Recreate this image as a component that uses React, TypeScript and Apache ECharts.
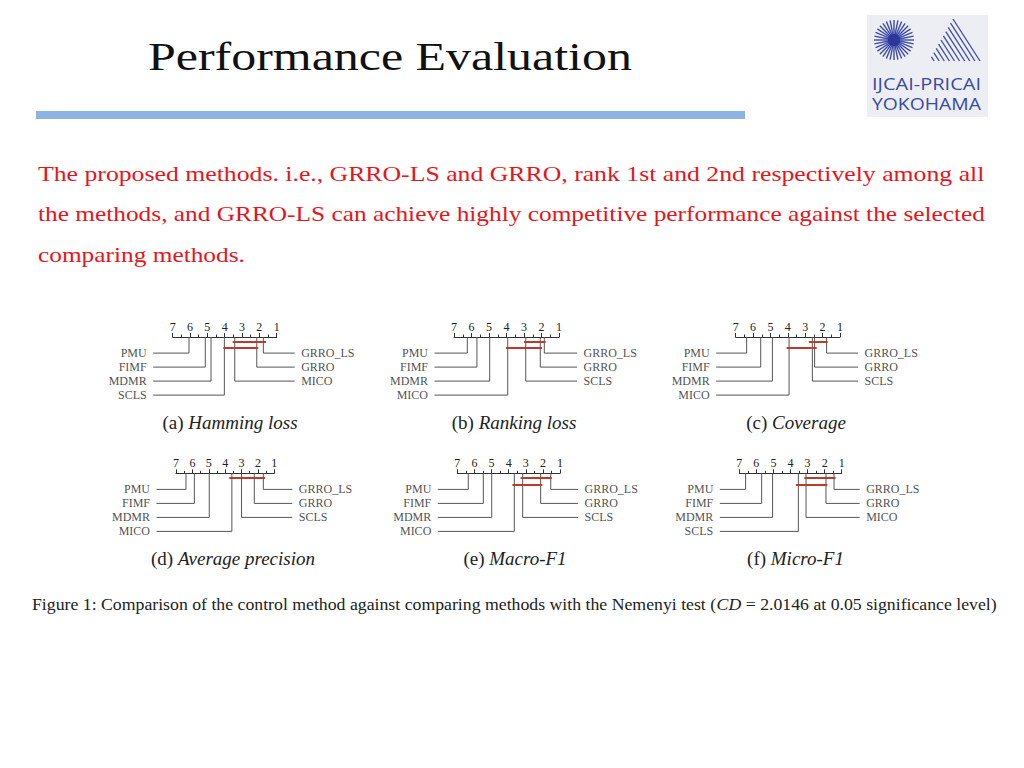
import React, { useEffect, useRef } from "react";
import * as echarts from "echarts";

// ---------- data ----------
const methodNames = ["PMU", "FIMF", "MDMR", "SCLS", "MICO", "GRRO", "GRRO_LS"];

// average ranks, aligned with methodNames
const hammingLossRanks = [6.06, 5.12, 4.79, 4.02, 3.42, 2.15, 1.77];
const rankingLossRanks = [6.24, 5.69, 4.96, 2.9, 3.93, 2.07, 1.84];
const coverageRanks = [6.37, 5.56, 4.89, 2.59, 3.93, 2.46, 1.77];
const avgPrecisionRanks = [6.39, 5.88, 4.97, 3.0, 3.59, 2.22, 1.67];
const macroF1Ranks = [6.36, 5.48, 4.99, 3.18, 3.67, 2.13, 1.54];
const microF1Ranks = [6.63, 5.69, 5.05, 3.54, 3.09, 1.92, 1.45];

// critical-difference cliques [from rank, to rank]
const hammingLossCD = [[3.54, 1.62], [4.08, 2.06]];
const rankingLossCD = [[3.0, 1.76], [4.03, 1.97]];
const coverageCD = [[2.79, 1.71], [4.07, 2.34]];
const avgPrecisionCD = [[3.75, 1.57]];
const macroF1CD = [[3.3, 1.48], [3.78, 2.03]];
const microF1CD = [[3.19, 1.36], [3.68, 1.84]];

const panelTags = ["(a) ", "(b) ", "(c) ", "(d) ", "(e) ", "(f) "];
const panelMetrics = ["Hamming loss", "Ranking loss", "Coverage", "Average precision", "Macro-F1", "Micro-F1"];
const panelRanks = [hammingLossRanks, rankingLossRanks, coverageRanks, avgPrecisionRanks, macroF1Ranks, microF1Ranks];
const panelCD = [hammingLossCD, rankingLossCD, coverageCD, avgPrecisionCD, macroF1CD, microF1CD];

const titleText = "Performance Evaluation";
const paragraphLines = [
  "The proposed methods. i.e., GRRO-LS and GRRO, rank 1st and 2nd respectively among all",
  "the methods, and GRRO-LS can achieve highly competitive performance against the selected",
  "comparing methods.",
];
const captionParts = [
  "Figure 1: Comparison of the control method against comparing methods with the Nemenyi test (",
  "CD",
  " = 2.0146 at 0.05 significance level)",
];
const logoLines = ["IJCAI-PRICAI", "YOKOHAMA"];

// ---------- layout ----------
const panelLayout = [
  { left: 172.7, width: 104, top: 337, capX: 230, capY: 422 },
  { left: 454, width: 105, top: 337, capX: 514, capY: 422 },
  { left: 735.7, width: 104.3, top: 337, capX: 796, capY: 422 },
  { left: 176, width: 98.3, top: 473.3, capX: 233, capY: 558 },
  { left: 457.3, width: 102.7, top: 473.3, capX: 515, capY: 558 },
  { left: 739.3, width: 102.4, top: 473.3, capX: 795.5, capY: 558 },
];
const Y_MIN = -1.15;
const Y_MAX = 3;
const ROW_PX = 14;
const SERIF = "Liberation Serif";
const SANS = "Open Sans";

export default function App() {
  const ref = useRef<HTMLDivElement>(null);

  useEffect(() => {
    if (!ref.current) return;
    const chart = echarts.init(ref.current, null, { renderer: "svg" });
    const ctx = document.createElement("canvas").getContext("2d")!;
    const measure = (t: string, size: number, fam: string, style = "normal", weight = "normal") => {
      ctx.font = `${style} ${weight} ${size}px "${fam}"`;
      return ctx.measureText(t).width;
    };

    const grids: any[] = [];
    const xAxes: any[] = [];
    const yAxes: any[] = [];
    const series: any[] = [];
    const graphics: any[] = [];

    panelRanks.forEach((ranks, i) => {
      const L = panelLayout[i];
      const ppr = L.width / 6;
      const leftEdge = 7 + 19.5 / ppr;
      const rightEdge = 1 - 18 / ppr;
      grids.push({ left: L.left, top: L.top, width: L.width, height: (Y_MAX - Y_MIN) * ROW_PX });
      xAxes.push({
        gridIndex: i,
        type: "value",
        min: 1,
        max: 7,
        interval: 1,
        inverse: true,
        position: "top",
        axisLine: { show: true, onZero: false, lineStyle: { color: "#333", width: 1 } },
        axisTick: { show: true, inside: false, length: 4, lineStyle: { color: "#333", width: 1 } },
        minorTick: { show: true, splitNumber: 2, length: 2.5, lineStyle: { color: "#333", width: 1 } },
        axisLabel: { show: true, fontFamily: SERIF, fontSize: 12, color: "#222", margin: 4 },
        splitLine: { show: false },
        minorSplitLine: { show: false },
      });
      yAxes.push({ gridIndex: i, type: "value", min: Y_MIN, max: Y_MAX, inverse: true, show: false });

      const items = methodNames.map((m, k) => ({ m, r: ranks[k] }));
      const leftSide = [...items].sort((a, b) => b.r - a.r).slice(0, 4);
      const rightSide = [...items].sort((a, b) => a.r - b.r).slice(0, 3);

      const connectors: any[] = [];
      const labels: any[] = [];
      leftSide.forEach((it, row) => {
        connectors.push({ coords: [[it.r, Y_MIN], [it.r, row], [leftEdge, row]] });
        labels.push({ value: [leftEdge, row], name: it.m, label: { position: "left" } });
      });
      rightSide.forEach((it, row) => {
        connectors.push({ coords: [[it.r, Y_MIN], [it.r, row], [rightEdge, row]] });
        labels.push({ value: [rightEdge, row], name: it.m, label: { position: "right" } });
      });

      series.push({
        type: "lines",
        coordinateSystem: "cartesian2d",
        xAxisIndex: i,
        yAxisIndex: i,
        polyline: true,
        clip: false,
        silent: true,
        lineStyle: { color: "#555", width: 1, opacity: 1 },
        data: connectors,
      });
      const levels = [Y_MIN + 4.5 / ROW_PX, Y_MIN + 11 / ROW_PX];
      series.push({
        type: "lines",
        coordinateSystem: "cartesian2d",
        xAxisIndex: i,
        yAxisIndex: i,
        polyline: false,
        clip: false,
        silent: true,
        lineStyle: { color: "#c0392b", width: 2, opacity: 1 },
        data: panelCD[i].map((b, k) => ({ coords: [[b[0], levels[k]], [b[1], levels[k]]] })),
      });
      series.push({
        type: "scatter",
        xAxisIndex: i,
        yAxisIndex: i,
        clip: false,
        silent: true,
        symbolSize: 1,
        itemStyle: { color: "rgba(0,0,0,0)" },
        label: {
          show: true,
          formatter: "{b}",
          distance: 6,
          fontFamily: SERIF,
          fontSize: 12,
          color: "#222",
        },
        data: labels,
      });

      graphics.push({
        type: "text",
        x: L.capX,
        y: L.capY,
        style: {
          text: `{n|${panelTags[i]}}{i|${panelMetrics[i]}}`,
          textAlign: "center",
          align: "center",
          textVerticalAlign: "middle",
          verticalAlign: "middle",
          rich: {
            n: { fontFamily: SERIF, fontSize: 19, fill: "#222", color: "#222" },
            i: { fontFamily: SERIF, fontSize: 19, fontStyle: "italic", fill: "#222", color: "#222" },
          },
        },
      });
    });

    // title
    const titleSize = 39;
    const titleW = measure(titleText, titleSize, SERIF);
    graphics.push({
      type: "text",
      x: 148,
      y: 57,
      scaleX: 484 / titleW,
      style: {
        text: titleText,
        fontFamily: SERIF,
        fontSize: titleSize,
        fill: "#111",
        textAlign: "left",
        align: "left",
        textVerticalAlign: "middle",
        verticalAlign: "middle",
      },
    });
    graphics.push({
      type: "rect",
      shape: { x: 36, y: 111, width: 709, height: 8 },
      style: { fill: "#8db3e2" },
    });

    // paragraph
    const parSize = 21;
    const parY = [174, 214, 255];
    const parW = [947, 947, 207];
    paragraphLines.forEach((t, k) => {
      const w = measure(t, parSize, SERIF);
      graphics.push({
        type: "text",
        x: 38,
        y: parY[k],
        scaleX: parW[k] / w,
        style: {
          text: t,
          fontFamily: SERIF,
          fontSize: parSize,
          fill: "#e8141c",
          textAlign: "left",
          align: "left",
          textVerticalAlign: "middle",
          verticalAlign: "middle",
        },
      });
    });

    // figure caption
    const capSize = 16;
    const capW =
      measure(captionParts[0], capSize, SERIF) +
      measure(captionParts[1], capSize, SERIF, "italic") +
      measure(captionParts[2], capSize, SERIF);
    graphics.push({
      type: "text",
      x: 32,
      y: 605,
      scaleX: 965 / capW,
      style: {
        text: `{n|${captionParts[0]}}{i|${captionParts[1]}}{n|${captionParts[2]}}`,
        textAlign: "left",
        align: "left",
        textVerticalAlign: "middle",
        verticalAlign: "middle",
        rich: {
          n: { fontFamily: SERIF, fontSize: capSize, fill: "#222", color: "#222" },
          i: { fontFamily: SERIF, fontSize: capSize, fontStyle: "italic", fill: "#222", color: "#222" },
        },
      },
    });

    // logo
    const logo: any[] = [];
    logo.push({ type: "rect", shape: { x: 867, y: 15, width: 121, height: 102 }, style: { fill: "#eceef4" } });
    const cx = 894, cy = 40;
    const nRays = 32;
    for (let k = 0; k < nRays; k++) {
      const a = (k / nRays) * Math.PI * 2;
      logo.push({
        type: "line",
        shape: { x1: cx + Math.cos(a) * 4, y1: cy + Math.sin(a) * 4, x2: cx + Math.cos(a) * 20, y2: cy + Math.sin(a) * 20 },
        style: { stroke: "#3d4aa8", lineWidth: 1.4 },
      });
    }
    logo.push({ type: "circle", shape: { cx, cy, r: 6 }, style: { fill: "#2b3898" } });
    const A = [953, 19], BL = [929, 61], BR = [980, 61];
    const nHatch = 10;
    for (let k = 0; k < nHatch; k++) {
      const t = k / nHatch;
      const sx = A[0] + t * (BL[0] - A[0]);
      const sy = A[1] + t * (BL[1] - A[1]);
      const ex = t * BL[0] + (1 - t) * BR[0];
      logo.push({
        type: "line",
        shape: { x1: sx, y1: sy, x2: ex, y2: BL[1] },
        style: { stroke: "#3d4aa8", lineWidth: 1.3 },
      });
    }
    const logoY = [84, 104];
    logoLines.forEach((t, k) => {
      const w = measure(t, 16, SANS);
      logo.push({
        type: "text",
        x: 872,
        y: logoY[k],
        scaleX: 109 / w,
        style: {
          text: t,
          fontFamily: SANS,
          fontSize: 16,
          fill: "#3a4a9f",
          textAlign: "left",
          align: "left",
          textVerticalAlign: "middle",
          verticalAlign: "middle",
        },
      });
    });
    graphics.push(...logo);

    chart.setOption({
      animation: false,
      backgroundColor: "#ffffff",
      grid: grids,
      xAxis: xAxes,
      yAxis: yAxes,
      series,
      graphic: { elements: graphics },
    });
    return () => chart.dispose();
  }, []);

  return (
    <div
      ref={ref}
      style={{ position: "absolute", left: 0, top: 0, width: 1024, height: 768, background: "#fff" }}
    />
  );
}
